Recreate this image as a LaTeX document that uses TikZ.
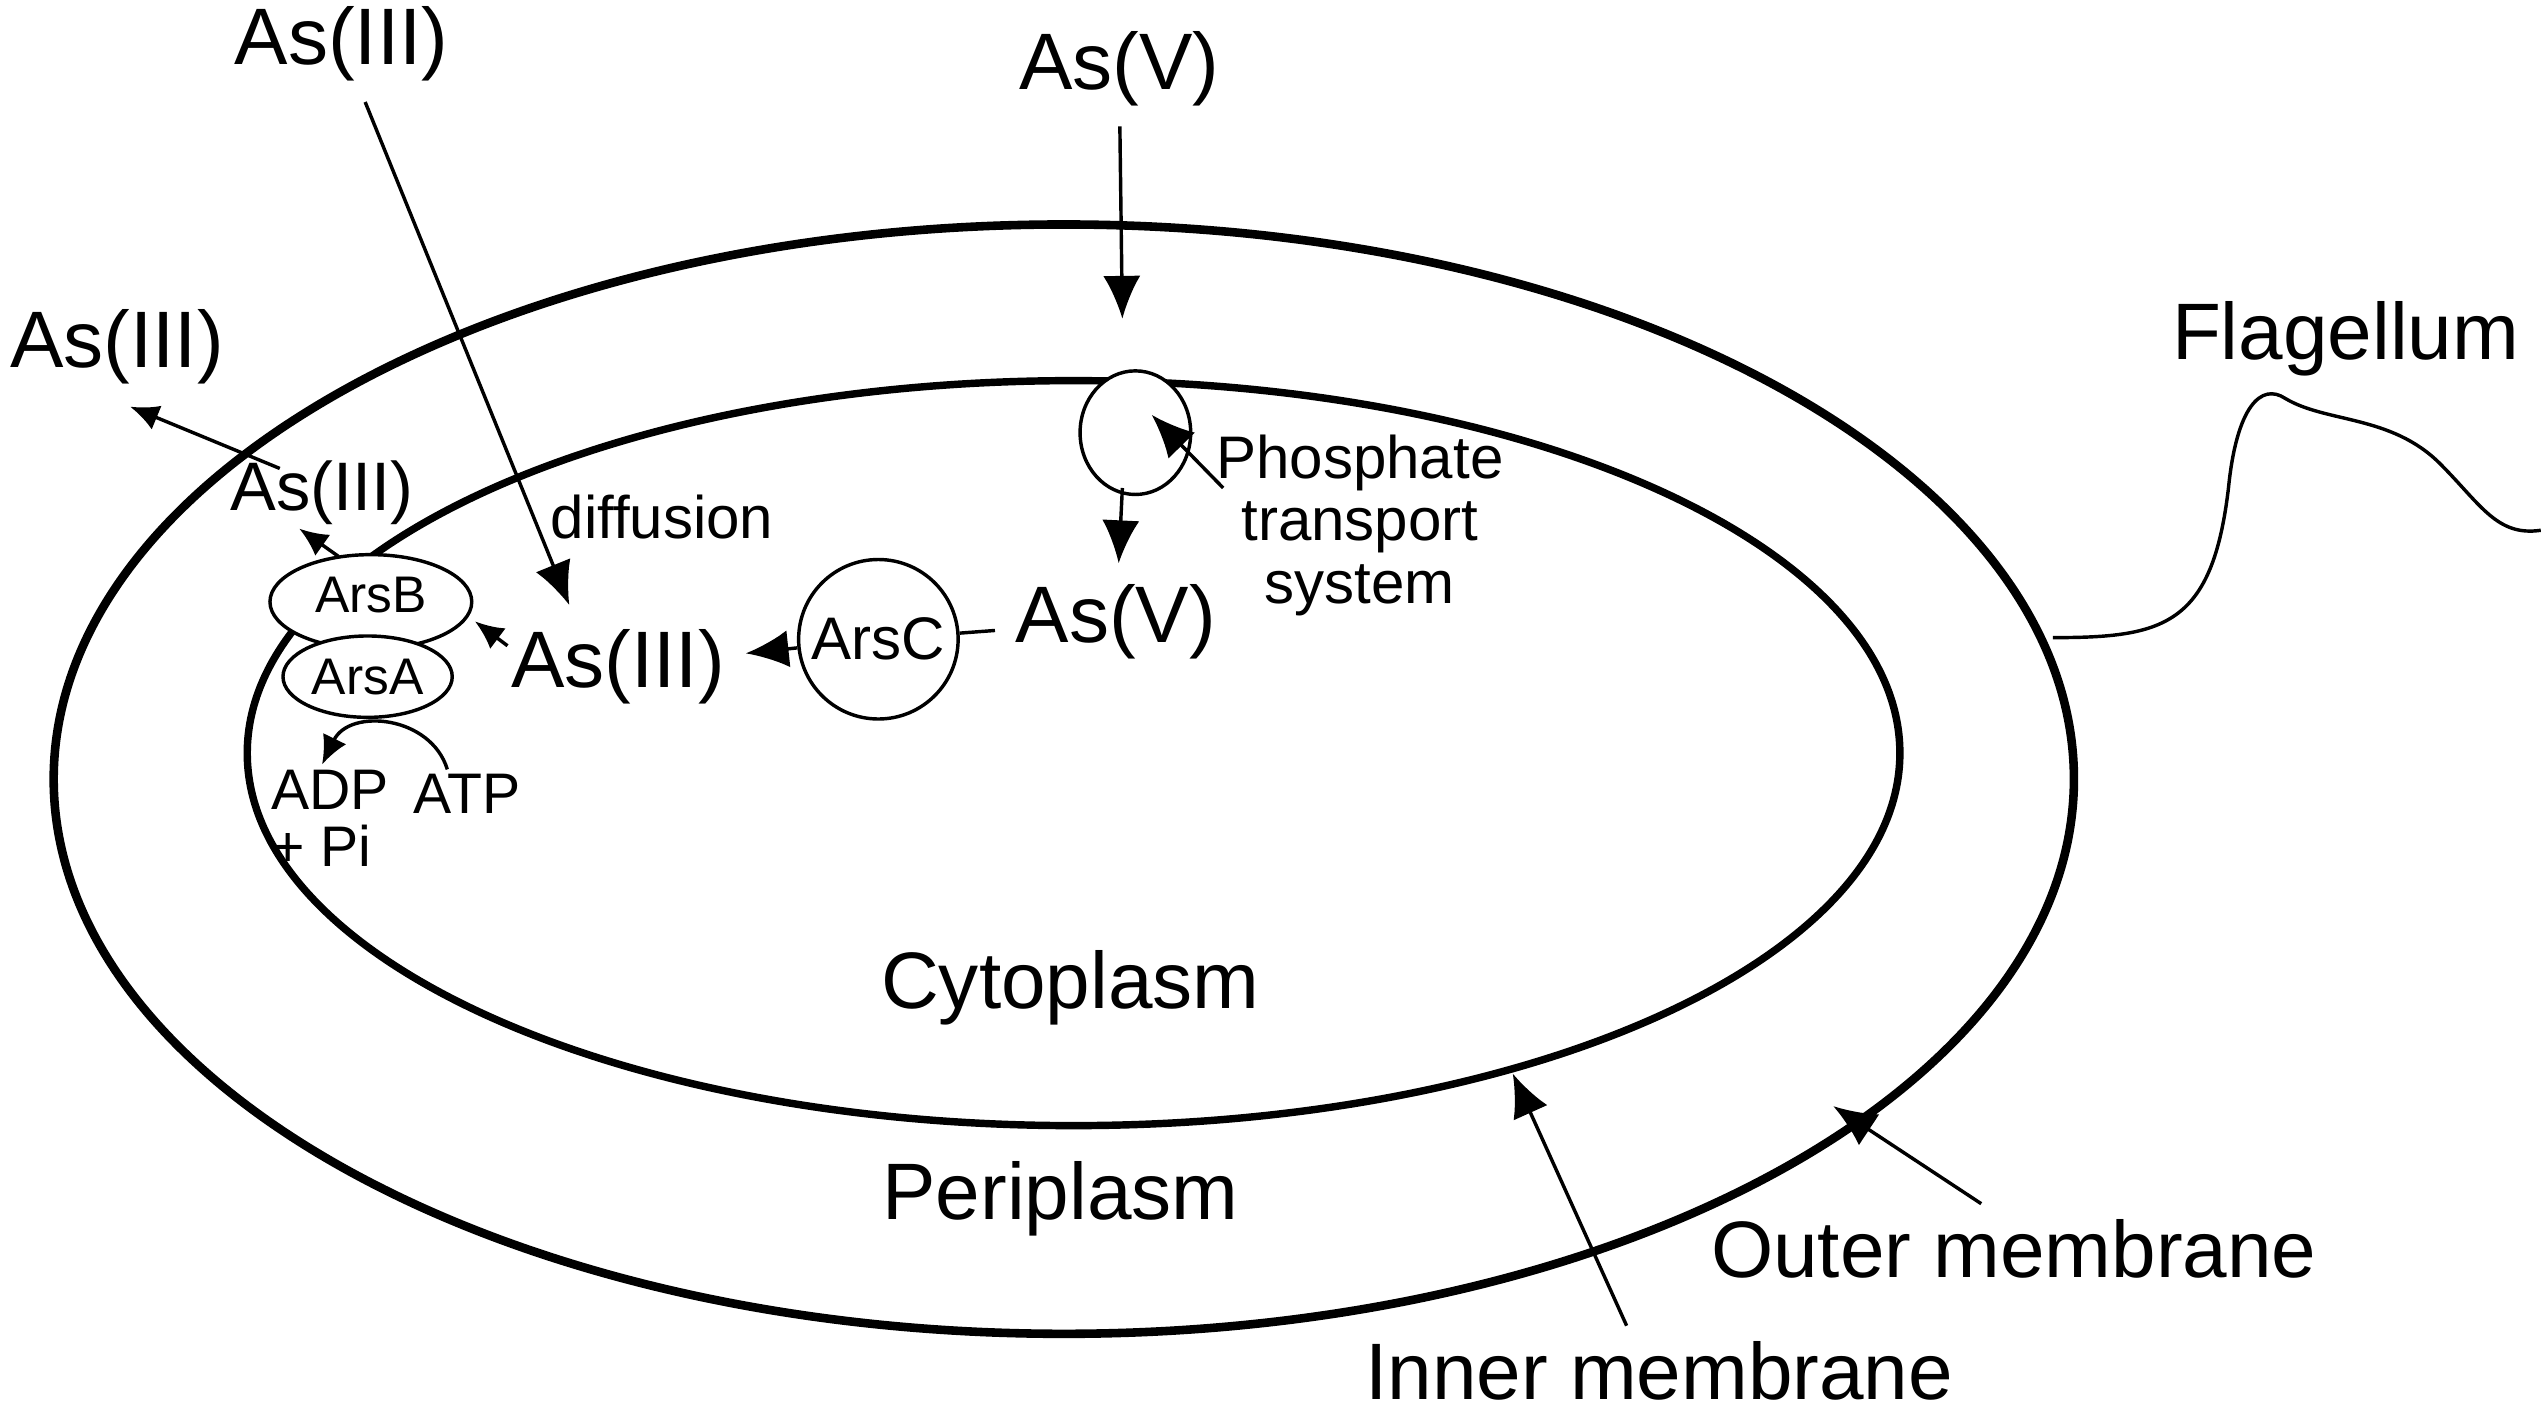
\documentclass[tikz,border=0pt]{standalone}
\usepackage{fontspec}
\setmainfont{Liberation Sans}
\usetikzlibrary{arrows.meta, shapes.geometric}
\begin{document}
\begin{tikzpicture}[x=0.01cm, y=-0.01cm, semithick,
  big/.style={font=\fontsize{14}{15}\selectfont},
  mid/.style={font=\fontsize{10.5}{11}\selectfont, align=center},
  small/.style={font=\fontsize{9}{9.5}\selectfont, align=center},
  arr/.style={-{Latex[length=7.5pt,width=6.5pt]}},
  sarr/.style={-{Latex[length=5pt,width=4.5pt]}}]
  \useasboundingbox (0,0) rectangle (1564,870);
  % membranes
  \draw[line width=1.5pt] (654,479) ellipse (621 and 341);
  \draw[line width=1.3pt] (660,463) ellipse (508 and 229);
  \coordinate (flagbase) at (1262,392);
  \draw (flagbase) .. controls (1330,392) and (1360,385) .. (1370,300)
    .. controls (1375,250) and (1390,235) .. (1405,245)
    .. controls (1430,260) and (1470,255) .. (1500,285)
    .. controls (1525,310) and (1535,330) .. (1562,326);
  % phosphate transport
  \draw[fill=white] (698,266) ellipse (34 and 38);
  \node[big] (asVtop) at (688,42) {As(V)};
  \node[big] (asVin) at (686,382) {As(V)};
  \node[mid] (pts) at (836,323) {Phosphate\\transport\\system};
  \coordinate (ptstop) at (690,196);
  \coordinate (ptsbot) at (690,300);
  \coordinate (ptsin) at (708,255);
  \coordinate (ptsarr) at (752,300);
  \draw[arr] (asVtop) -- (ptstop);
  \draw[arr] (ptsbot) -- (asVin);
  \draw[arr] (ptsarr) -- (ptsin);
  % ArsC
  \node[draw, circle, minimum size=0.98cm, inner sep=0pt, mid] (arsc) at (540,393) {ArsC};
  \node[big] (asIIIin) at (380,410) {As(III)};
  \draw (asVin) -- (arsc);
  \draw[arr] (arsc) -- (asIIIin);
  % diffusion
  \node[big] (asIIItop) at (210,27) {As(III)};
  \node[mid] (diff) at (407,318) {diffusion};
  \coordinate (diffend) at (350,372);
  \draw[arr] (asIIItop) -- (diffend);
  % pump
  \node[draw, ellipse, minimum width=1.24cm, minimum height=0.58cm, inner sep=0pt, fill=white] (arsb) at (228,370) {};
  \node[draw, ellipse, minimum width=1.04cm, minimum height=0.50cm, inner sep=0pt, small, fill=white] (arsa) at (226,416) {ArsA};
  \node[small] at (228,366) {ArsB};
  \coordinate (asIIIarr) at (312,397);
  \coordinate (arsbr) at (292,382);
  \draw[sarr] (asIIIarr) -- (arsbr);
  \node[font=\fontsize{12}{12}\selectfont] (asIIIpump) at (198,303) {As(III)};
  \coordinate (arsbtop) at (208,342);
  \coordinate (pumpout) at (184,325);
  \draw[sarr] (arsbtop) -- (pumpout);
  \node[big] (asIIIout) at (72,213) {As(III)};
  \coordinate (outstart) at (172,288);
  \coordinate (outend) at (80,250);
  \draw[sarr] (outstart) -- (outend);
  \node[font=\fontsize{10}{10}\selectfont, align=left] (adp) at (203,503) {ADP\\+ Pi};
  \node[font=\fontsize{10}{10}\selectfont] (atp) at (287,488) {ATP};
  \coordinate (atpstart) at (275,473);
  \coordinate (adpend) at (198,470);
  \draw[sarr] (atpstart) .. controls (265,440) and (215,435) .. (adpend);
  % labels
  \node[big] (cyto) at (658,607) {Cytoplasm};
  \node[big] (peri) at (652,737) {Periplasm};
  \node[big] (flag) at (1442,208) {Flagellum};
  \node[big] (outer) at (1238,768) {Outer membrane};
  \node[big] (inner) at (1020,843) {Inner membrane};
  \coordinate (outerst) at (1218,740);
  \coordinate (innerst) at (1000,815);
  \coordinate (outerpt) at (1127,680);
  \coordinate (innerpt) at (930,660);
  \draw[arr] (outerst) -- (outerpt);
  \draw[arr] (innerst) -- (innerpt);
\end{tikzpicture}
\end{document}
